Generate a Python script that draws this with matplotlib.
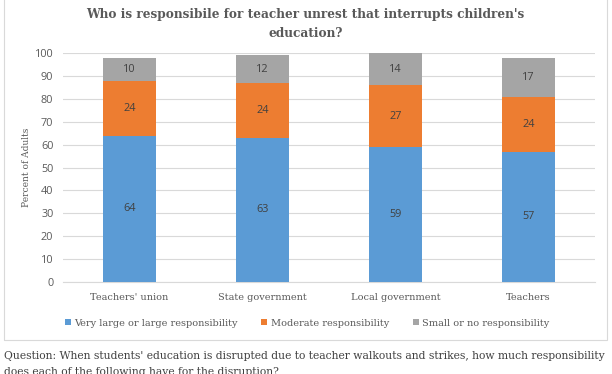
import matplotlib
matplotlib.use("Agg")
import matplotlib.pyplot as plt
from matplotlib.patches import Rectangle
import numpy as np

categories = ["Teachers' union", "State government", "Local government", "Teachers"]
series_names = ["Very large or large responsibility", "Moderate responsibility", "Small or no responsibility"]
large = [64, 63, 59, 57]
moderate = [24, 24, 27, 24]
small = [10, 12, 14, 17]
colors = ["#5B9BD5", "#ED7D31", "#A5A5A5"]
yticks = list(range(0, 101, 10))

FONT = "DejaVu Serif"
NUMFONT = "Open Sans"
TXT = "#595959"

fig = plt.figure(figsize=(6.12, 3.74), dpi=100)
ax = fig.add_axes([0.103, 0.246, 0.869, 0.612])

x = np.arange(len(categories))
bottom = np.zeros(len(categories))
handles = []
for vals, col, name in zip([large, moderate, small], colors, series_names):
    bars = ax.bar(x, vals, 0.4, bottom=bottom, color=col, label=name, zorder=3)
    handles.append(bars)
    for xi, b, v in zip(x, bottom, vals):
        ax.text(xi, b + v / 2, str(v), ha="center", va="center", fontsize=7.8,
                color="#404040", family=NUMFONT, zorder=4)
    bottom = bottom + np.array(vals)

ax.set_xlim(-0.5, len(categories) - 0.5)
ax.set_ylim(0, 100)
ax.set_yticks(yticks)
ax.set_yticklabels([str(t) for t in yticks], family=NUMFONT, fontsize=7.8, color=TXT)
ax.set_xticks(x)
ax.set_xticklabels(categories, fontsize=7, color=TXT, family=FONT)
ax.tick_params(axis="y", length=0, pad=7)
ax.tick_params(axis="x", length=0, pad=8)
ax.grid(axis="y", color="#D9D9D9", linewidth=0.8, zorder=0)
for s in ["top", "right", "left"]:
    ax.spines[s].set_visible(False)
ax.spines["bottom"].set_color("#D9D9D9")
ax.set_ylabel("Percent of Adults", fontsize=6.5, color=TXT, family=FONT, labelpad=3)

fig.text(0.499, 0.962, "Who is responsibile for teacher unrest that interrupts children's",
         ha="center", va="center", fontsize=8.7, fontweight="bold", color=TXT, family=FONT)
fig.text(0.499, 0.911, "education?", ha="center", va="center", fontsize=8.7,
         fontweight="bold", color=TXT, family=FONT)

leg = fig.legend(handles=handles, labels=series_names, loc="center", bbox_to_anchor=(0.502, 0.136),
                 ncol=3, frameon=False, handlelength=0.6, handleheight=0.6,
                 handletextpad=0.4, columnspacing=2.4, prop={"family": FONT, "size": 7})
for t in leg.get_texts():
    t.set_color(TXT)

fig.patches.append(Rectangle((0.007, 0.09), 0.985, 0.95, transform=fig.transFigure,
                             fill=False, edgecolor="#D9D9D9", linewidth=0.8))

fig.text(0.007, 0.048, "Question: When students' education is disrupted due to teacher walkouts and strikes, how much responsibility",
         ha="left", va="center", fontsize=7.75, color="#404040", family=FONT)
fig.text(0.007, 0.006, "does each of the following have for the disruption?",
         ha="left", va="center", fontsize=7.75, color="#404040", family=FONT)

fig.savefig("out.png", dpi=100)
